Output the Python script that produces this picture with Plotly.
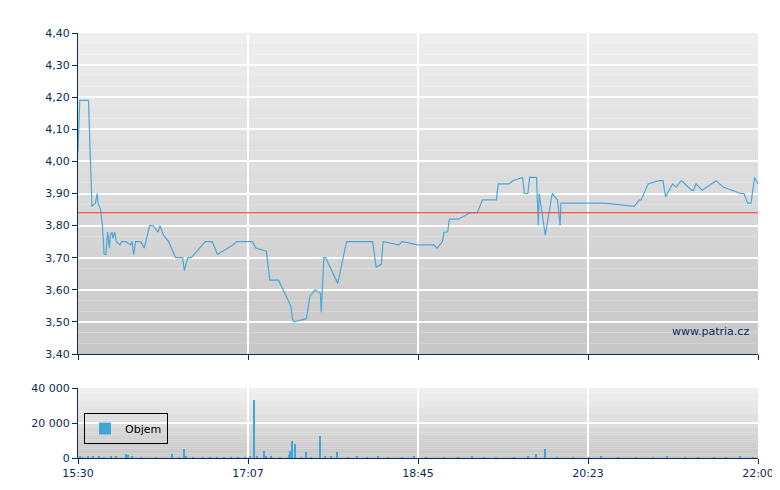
import pandas as pd
import plotly.graph_objects as go
from plotly.subplots import make_subplots

# minuty od 15:30 a cena
price_min = [0, 1, 6, 7, 8, 10, 11, 11.5, 13, 14, 15, 16, 17, 18, 18.5, 19.5, 20, 21, 22, 24, 25, 27.5,
             30, 31, 32, 33, 36, 37, 38, 41, 43, 46, 47, 49, 52, 56, 60, 61, 63, 65, 73, 77, 80, 89, 91,
             100, 102, 108, 110, 115, 122, 123, 124, 131, 133, 136, 139, 139.5, 141, 142, 149, 154, 169,
             171, 174, 175, 184, 186, 195, 204, 206, 209, 210, 212, 213, 218, 225, 229, 232, 240, 241,
             247, 249.5, 255, 256, 258, 259, 263, 264, 264.5, 268, 272, 275, 276.5, 277, 302, 318, 319,
             322, 323, 327, 333, 335.5, 337, 341, 343, 346, 352, 353, 354.5, 358, 366, 368, 370, 380,
             382, 384, 386, 388, 390]
price_val = [4.03, 4.19, 4.19, 4.00, 3.86, 3.87, 3.90, 3.87, 3.85, 3.80, 3.71, 3.71, 3.78, 3.73, 3.77,
             3.78, 3.76, 3.78, 3.75, 3.74, 3.75, 3.75, 3.74, 3.75, 3.71, 3.75, 3.75, 3.74, 3.73, 3.80,
             3.80, 3.78, 3.80, 3.77, 3.75, 3.70, 3.70, 3.66, 3.70, 3.70, 3.75, 3.75, 3.71, 3.74, 3.75,
             3.75, 3.73, 3.72, 3.63, 3.63, 3.55, 3.51, 3.50, 3.51, 3.58, 3.60, 3.59, 3.53, 3.70, 3.70,
             3.62, 3.75, 3.75, 3.67, 3.68, 3.75, 3.74, 3.75, 3.74, 3.74, 3.73, 3.75, 3.78, 3.78, 3.82,
             3.82, 3.84, 3.84, 3.88, 3.88, 3.93, 3.93, 3.94, 3.95, 3.90, 3.90, 3.95, 3.95, 3.80, 3.90,
             3.77, 3.90, 3.88, 3.80, 3.87, 3.87, 3.86, 3.86, 3.88, 3.88, 3.93, 3.94, 3.94, 3.89, 3.93,
             3.92, 3.94, 3.91, 3.91, 3.93, 3.91, 3.94, 3.93, 3.92, 3.90, 3.90, 3.87, 3.87, 3.95, 3.93,
             3.95]
ref_price = 3.84

vol_min = [1, 3, 6, 9, 12, 15, 19, 22, 27.5, 29, 31, 36, 45, 54, 58, 61, 62, 66, 72, 76, 80, 84, 88,
           92, 96, 99, 101, 103, 107, 108, 111, 116, 121, 122, 123, 124.5, 128, 131, 134, 139, 142,
           145, 148.5, 155, 160, 166, 172, 178, 186, 193, 200, 210, 218, 226, 233, 240, 250, 258, 263,
           268, 275, 284, 293, 300, 310, 320, 330, 338, 348, 356, 365, 372, 380, 387]
vol_val = [600, 500, 700, 600, 700, 500, 800, 600, 2500, 2000, 600, 500, 500, 2500, 500, 5000, 600,
           500, 400, 500, 400, 500, 400, 500, 400, 600, 33000, 600, 4000, 600, 700, 500, 2000, 4000,
           10000, 8000, 500, 3500, 500, 12500, 700, 600, 3500, 500, 600, 500, 700, 400, 500, 600, 400,
           500, 400, 600, 500, 400, 500, 600, 2500, 5000, 500, 400, 500, 600, 400, 500, 400, 600, 500,
           400, 500, 400, 600, 500]

t0 = pd.Timestamp("2024-01-10 15:30")
px_t = [t0 + pd.Timedelta(minutes=m) for m in price_min]
vol_t = [t0 + pd.Timedelta(minutes=m) for m in vol_min]
tick_t = [t0 + pd.Timedelta(minutes=m) for m in [0, 97.5, 195, 292.5, 390]]
tick_lbl = ["15:30", "17:07", "18:45", "20:23", "22:00"]
t_end = t0 + pd.Timedelta(minutes=390)

W, H = 780, 490
xd = [70 / W, 750 / W]
fig = make_subplots(rows=2, cols=1)
axis_col = "#0b2a5b"

fig.add_trace(go.Scatter(x=px_t, y=price_val, mode="lines", line=dict(color="#4aa8d8", width=1.2),
                         showlegend=False), row=1, col=1)
fig.add_trace(go.Scatter(x=[t0, t_end], y=[ref_price, ref_price], mode="lines",
                         line=dict(color="#ff3030", width=1), showlegend=False), row=1, col=1)
fig.add_trace(go.Bar(x=vol_t, y=vol_val, name="Objem", marker=dict(color="#3fa6d6", line=dict(width=0)),
                     width=50000), row=2, col=1)

# šedý přechod pozadí
def gradient(y0, y1, c_top, c_bot, n=30):
    for i in range(n):
        f = i / (n - 1)
        c = [int(c_top[k] + (c_bot[k] - c_top[k]) * f) for k in range(3)]
        fig.add_shape(type="rect", xref="paper", yref="paper", x0=xd[0], x1=xd[1],
                      y0=y1 - (y1 - y0) * (i + 1) / n, y1=y1 - (y1 - y0) * i / n,
                      fillcolor=f"rgb({c[0]},{c[1]},{c[2]})", line=dict(width=0), layer="below")

gradient(1 - 346 / H, 1 - 25 / H, (238, 238, 238), (200, 200, 200))
gradient(1 - 450 / H, 1 - 380 / H, (240, 240, 240), (200, 200, 200))

tfont = dict(family="DejaVu Sans", size=11, color=axis_col)
xaxis_common = dict(domain=xd, range=[t0, t_end], tickvals=tick_t, showgrid=True, gridcolor="white",
                    gridwidth=1.5, showline=True, linecolor=axis_col, ticks="outside", tickcolor=axis_col,
                    ticklen=5, tickfont=tfont, automargin=False)
yaxis_common = dict(showgrid=True, gridcolor="white", gridwidth=1.5, showline=True, linecolor=axis_col,
                    ticks="outside", tickcolor=axis_col, ticklen=5, zeroline=False, tickfont=tfont,
                    automargin=False)
fig.update_layout(
    width=W, height=H, margin=dict(l=0, r=0, t=0, b=0, autoexpand=False), paper_bgcolor="white",
    plot_bgcolor="rgba(0,0,0,0)", separators=", ", bargap=0,
    xaxis=dict(xaxis_common, ticktext=[""] * 5),
    xaxis2=dict(xaxis_common, ticktext=tick_lbl),
    yaxis=dict(yaxis_common, domain=[1 - 346 / H, 1 - 25 / H], range=[3.40, 4.40], dtick=0.1,
               tickformat=".2f"),
    yaxis2=dict(yaxis_common, domain=[1 - 450 / H, 1 - 380 / H], range=[0, 40000], dtick=20000,
                tickformat=",d"),
    legend=dict(x=76 / W, y=1 - 405 / H, xanchor="left", yanchor="top", bgcolor="rgba(0,0,0,0)",
                bordercolor="black", borderwidth=1, itemwidth=30,
                font=dict(family="DejaVu Sans", size=11, color="black")),
    showlegend=True,
)
fig.add_annotation(text="www.patria.cz", xref="paper", yref="paper", x=743 / W, y=1 - 323 / H,
                   xanchor="right", yanchor="middle", showarrow=False,
                   font=dict(family="DejaVu Sans", size=11, color="#0b2a5b"))

fig.write_html("out.html")
